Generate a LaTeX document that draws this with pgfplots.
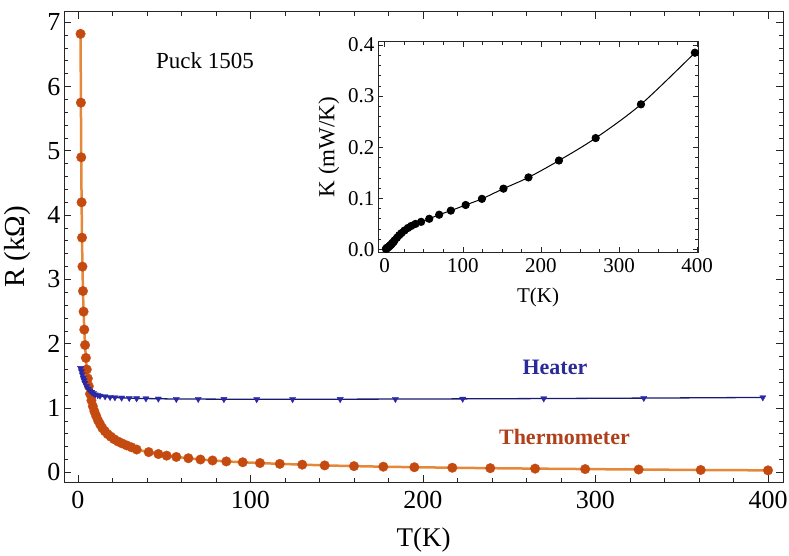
\documentclass[border=0pt]{standalone}
\usepackage{fontspec}
\setmainfont{Liberation Serif}
\usepackage{pgfplots}
\pgfplotsset{compat=1.18}
\usepackage{pgfplotstable}

\definecolor{thermLine}{HTML}{E6883A}
\definecolor{thermMark}{HTML}{C44A10}
\definecolor{heatMark}{HTML}{2828A8}
\definecolor{heatLine}{HTML}{1A1A70}
\definecolor{heatText}{HTML}{2A2A98}
\definecolor{thermText}{HTML}{B0401A}

\pgfplotstableread{
T R
1.5 6.82
1.7 5.75
1.9 4.90
2.1 4.20
2.35 3.65
2.6 3.20
2.9 2.82
3.25 2.50
3.65 2.22
4.1 1.98
4.6 1.78
5.1 1.60
5.7 1.46
6.3 1.34
7.0 1.22
7.8 1.12
8.6 1.03
9.5 0.95
10.5 0.88
11.6 0.81
12.8 0.75
14.1 0.69
15.6 0.64
17.2 0.595
19.0 0.555
21.0 0.515
23.2 0.48
25.6 0.45
28.2 0.42
31.0 0.39
34.0 0.355
41.0 0.315
46.6 0.285
51.4 0.26
57.0 0.24
64.0 0.22
71.0 0.20
78.0 0.185
86.0 0.17
95.5 0.157
105.5 0.145
117 0.132
130 0.12
143 0.108
160 0.097
177 0.088
195 0.08
217 0.072
239 0.065
265 0.058
294 0.051
325 0.044
361 0.037
400 0.031
}\thermo

\pgfplotstableread{
T R K
1.5 1.62 0.001
2 1.57 0.0015
2.5 1.52 0.002
3 1.47 0.003
3.5 1.43 0.0035
4 1.39 0.004
5 1.34 0.005
6 1.30 0.0065
7 1.27 0.008
8 1.25 0.009
9 1.23 0.011
10 1.21 0.013
11.5 1.20 0.015
12.8 1.19 0.018
15.7 1.18 0.023
18.6 1.17 0.028
21.4 1.165 0.032
25.3 1.16 0.037
29.7 1.155 0.042
34 1.15 0.046
39.4 1.148 0.050
46.6 1.145 0.054
57 1.14 0.060
69.7 1.14 0.068
84.6 1.138 0.076
103.6 1.137 0.087
124.4 1.137 0.099
152 1.138 0.119
184 1.14 0.141
223 1.143 0.174
270 1.148 0.218
328 1.155 0.284
397 1.165 0.385
}\heater

\begin{document}
\begin{tikzpicture}
\path[use as bounding box] (0,0) rectangle (789pt,555pt);
\begin{axis}[
  at={(64pt,73pt)}, anchor=south west,
  scale only axis, width=719pt, height=470pt,
  xmin=-8.1, xmax=408.7, ymin=-0.15, ymax=7.16,
  xtick={0,100,200,300,400}, ytick={0,1,2,3,4,5,6,7},
  minor x tick num=4, minor y tick num=4,
  tick align=inside, major tick length=7pt, minor tick length=4pt,
  axis line style={black!85, line width=1pt},
  every tick/.style={black!85, line width=0.8pt},
  /pgf/number format/assume math mode=true,
  ticklabel style={font=\fontsize{26}{31}\selectfont},
  xticklabel style={yshift=-6pt},
  xlabel style={font=\fontsize{27}{32}\selectfont, yshift=-12pt},
  ylabel style={font=\fontsize{29}{34}\selectfont, yshift=10pt},
  xlabel={T(K)}, ylabel={R (kΩ)},
  clip=false,
]
\addplot[thermLine, line width=2.5pt, mark=*, mark size=4.8pt,
  mark options={fill=thermMark, draw=thermMark, line width=0.3pt}] table[x=T,y=R] {\thermo};
\addplot[heatLine, line width=1.3pt, mark=triangle*, mark size=3.6pt,
  mark options={fill=heatMark, draw=heatMark, rotate=180, line width=0.3pt}] table[x=T,y=R] {\heater};
\node[font=\fontsize{23}{27}\selectfont] at (axis cs:73.6,6.41) {Puck 1505};
\node[font=\fontsize{22}{26}\selectfont\bfseries, text=heatText] at (axis cs:276.5,1.64) {Heater};
\node[font=\fontsize{22}{26}\selectfont\bfseries, text=thermText] at (axis cs:282,0.55) {Thermometer};
\end{axis}
\begin{axis}[
  at={(378pt,303pt)}, anchor=south west,
  scale only axis, width=320pt, height=210pt,
  xmin=-8.6, xmax=401, ymin=-0.005, ymax=0.406,
  xtick={0,100,200,300,400}, ytick={0,0.1,0.2,0.3,0.4},
  minor x tick num=3, minor y tick num=4,
  tick align=inside, major tick length=5pt, minor tick length=3pt,
  axis line style={black!85, line width=1pt},
  every tick/.style={black!85, line width=0.7pt},
  axis background/.style={fill=white},
  /pgf/number format/assume math mode=true,
  yticklabel style={/pgf/number format/fixed, /pgf/number format/fixed zerofill, /pgf/number format/precision=1},
  ticklabel style={font=\fontsize{21}{25}\selectfont},
  xticklabel style={yshift=-3pt},
  xlabel style={font=\fontsize{21}{25}\selectfont, yshift=-8pt},
  ylabel style={font=\fontsize{23}{27}\selectfont, yshift=2pt},
  xlabel={T(K)}, ylabel={K (mW/K)},
]
\addplot[black, line width=1pt, smooth, mark=*, mark size=3.6pt] table[x=T,y=K] {\heater};
\end{axis}
\end{tikzpicture}
\end{document}
